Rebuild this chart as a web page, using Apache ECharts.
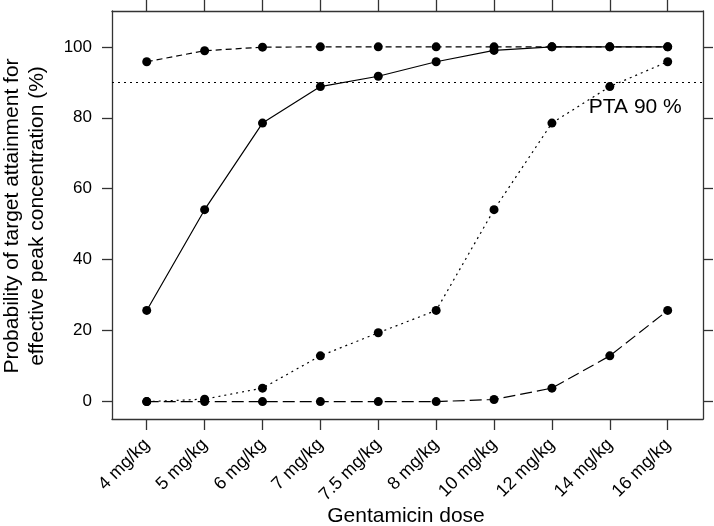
<!DOCTYPE html>
<html>
<head>
<meta charset="utf-8">
<script src="https://cdn.jsdelivr.net/npm/echarts@6/dist/echarts.min.js"></script>
<style>html,body{margin:0;padding:0;background:#fff}#c{width:714px;height:526px}</style>
</head>
<body>
<div id="c"></div>
<script>
const categories = ['4 mg/kg','5 mg/kg','6 mg/kg','7 mg/kg','7.5 mg/kg','8 mg/kg','10 mg/kg','12 mg/kg','14 mg/kg','16 mg/kg'];
const seriesA = [95.8, 98.9, 99.9, 100, 100, 100, 100, 100, 100, 100];
const seriesB = [25.7, 54.1, 78.5, 88.8, 91.7, 95.8, 99.0, 100, 100, 100];
const seriesC = [0, 0.7, 3.8, 12.9, 19.4, 25.7, 54.1, 78.5, 88.8, 95.8];
const seriesD = [0, 0, 0, 0, 0, 0, 0.6, 3.8, 12.9, 25.7];
const yTicks = [0, 20, 40, 60, 80, 100];
const ptaLevel = 90;
const ptaText = 'PTA 90 %';
const ptaLabelCoord = [9.44, 83.0];
const xTitle = 'Gentamicin dose';
const yTitle = 'Probability of target attainment for\neffective peak concentration (%)';

const xPos = categories.map((_, i) => i + 1);
const pairs = arr => arr.map((v, i) => [xPos[i], v]);
const FONT = '"Liberation Sans", Arial, sans-serif';
const AX = '#333';

const xCommon = {
  type: 'value', min: 0.4, max: 10.61,
  splitLine: {show: false},
  axisLine: {show: true, onZero: false, lineStyle: {color: AX, width: 1.3}},
  axisTick: {show: true, inside: false, length: 11, customValues: xPos, lineStyle: {color: AX, width: 1.3}}
};
const yCommon = {
  type: 'value', min: -4.9, max: 110.1,
  splitLine: {show: false},
  axisLine: {show: true, onZero: false, lineStyle: {color: AX, width: 1.3}},
  axisTick: {show: true, inside: false, length: 10, customValues: yTicks, lineStyle: {color: AX, width: 1.3}}
};

const mk = (name, data, type, extra) => Object.assign({
  name, type: 'line', data: pairs(data),
  symbol: 'circle', symbolSize: 9,
  itemStyle: {color: '#000'},
  lineStyle: {color: '#000', width: 1.2, type: type},
  silent: true
}, extra || {});

const chart = echarts.init(document.getElementById('c'), null, {renderer: 'canvas'});
chart.setOption({
  animation: false,
  backgroundColor: '#fff',
  textStyle: {fontFamily: FONT},
  grid: {left: 112, right: 11, top: 11, bottom: 107, containLabel: false, outerBoundsMode: 'none'},
  graphic: [
    {type: 'text', x: 406, y: 516, silent: true,
      style: {text: xTitle, font: '21px ' + FONT, fill: '#000', textAlign: 'center', textVerticalAlign: 'middle'}},
    {type: 'text', x: 24.5, y: 216, rotation: Math.PI / 2, silent: true,
      style: {text: yTitle, font: '21px ' + FONT, fill: '#000', textAlign: 'center', textVerticalAlign: 'middle', lineHeight: 25}}
  ],
  xAxis: [
    Object.assign({}, xCommon, {
      position: 'bottom',
      axisLabel: {show: true, rotate: 45, margin: 23, fontSize: 18, color: '#000', fontFamily: FONT,
        customValues: xPos, formatter: v => categories[Math.round(v) - 1] || ''}
    }),
    Object.assign({}, xCommon, {position: 'top', axisLabel: {show: false}})
  ],
  yAxis: [
    Object.assign({}, yCommon, {
      position: 'left',
      axisLabel: {show: true, margin: 20, fontSize: 17, color: '#000', fontFamily: FONT,
        customValues: yTicks}
    }),
    Object.assign({}, yCommon, {position: 'right', axisLabel: {show: false}})
  ],
  series: [
    mk('Series A', seriesA, [6, 4]),
    mk('Series B', seriesB, 'solid', {
      markLine: {
        silent: true, symbol: 'none',
        lineStyle: {color: '#000', width: 1.2, type: [2, 4]},
        label: {show: false},
        data: [{yAxis: ptaLevel}]
      },
      markPoint: {
        silent: true, symbol: 'rect', symbolSize: 1,
        itemStyle: {color: 'rgba(0,0,0,0)'},
        label: {show: true, position: 'inside', formatter: ptaText, fontSize: 21, color: '#000', fontFamily: FONT},
        data: [{coord: ptaLabelCoord}]
      }
    }),
    mk('Series C', seriesC, [2, 4]),
    mk('Series D', seriesD, [12, 5])
  ]
});
</script>
</body>
</html>
